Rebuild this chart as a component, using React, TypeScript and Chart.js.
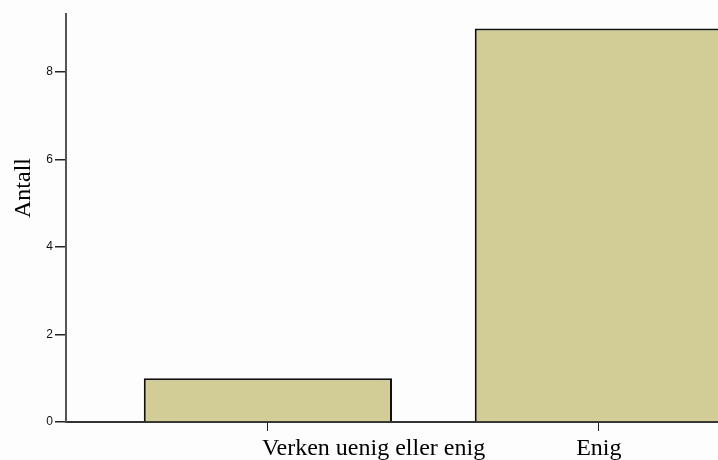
import React, { useEffect, useRef } from "react";
import { Chart, registerables } from "chart.js";
Chart.register(...registerables);

const categories = ["Verken uenig eller enig", "Enig"];
const counts = [1, 9];
const yTickValues = [0, 2, 4, 6, 8];
const yTitle = "Antall";

export default function App() {
  const ref = useRef<HTMLCanvasElement>(null);
  useEffect(() => {
    const canvas = ref.current!;
    const labelPlugin = {
      id: "customLabels",
      afterDraw(chart: any) {
        const c = chart.ctx;
        const xs = chart.scales.x;
        const area = chart.chartArea;
        c.save();
        c.fillStyle = "#000";
        c.font = "24px 'Liberation Serif'";
        c.textBaseline = "alphabetic";
        categories.forEach((label, i) => {
          const px = xs.getPixelForValue(i);
          if (i === 0) {
            c.textAlign = "left";
            c.fillText(label, px - 6, area.bottom + 33);
          } else {
            c.textAlign = "center";
            c.fillText(label, px, area.bottom + 33);
          }
        });
        c.translate(24, area.top + 174);
        c.rotate(-Math.PI / 2);
        c.textAlign = "center";
        c.textBaseline = "middle";
        c.fillText(yTitle, 0, 0);
        c.restore();
      },
    };
    const chart = new Chart(canvas, {
      type: "bar",
      data: {
        datasets: [
          {
            data: counts.map((v, i) => ({ x: i, y: v })),
            backgroundColor: "#d2cd97",
            borderColor: "#111",
            borderWidth: 2,
            barPercentage: 0.75,
            categoryPercentage: 1,
          },
        ],
      },
      options: {
        animation: false,
        responsive: false,
        devicePixelRatio: 1,
        layout: { padding: { top: 14, right: 0, left: 0, bottom: 0 } },
        plugins: { legend: { display: false }, tooltip: { enabled: false } },
        scales: {
          x: {
            type: "linear",
            min: -0.61,
            max: 1.36,
            offset: false,
            grid: { offset: false, drawOnChartArea: false, drawTicks: true, tickLength: 9, color: "#222", lineWidth: 1 },
            border: { color: "#333", width: 2 },
            ticks: { display: false },
            afterBuildTicks: (s: any) => {
              s.ticks = categories.map((_, i) => ({ value: i }));
            },
            afterFit: (s: any) => {
              s.height = 38;
            },
          },
          y: {
            min: 0,
            max: 9.33,
            grid: { drawOnChartArea: false, tickLength: 11, color: "#222", lineWidth: 1.5 },
            border: { color: "#555", width: 2 },
            ticks: { font: { size: 12, family: "'Liberation Sans'" }, color: "#111", padding: 2 },
            afterBuildTicks: (s: any) => {
              s.ticks = yTickValues.map((v) => ({ value: v }));
            },
            afterFit: (s: any) => {
              s.width = 66;
            },
          },
        },
      } as any,
      plugins: [labelPlugin],
    });
    return () => chart.destroy();
  }, []);
  return (
    <div style={{ position: "fixed", left: 0, top: 0, width: 718, height: 460, background: "#fdfdfd", overflow: "hidden" }}>
      <canvas ref={ref} width={718} height={460} style={{ display: "block" }} />
    </div>
  );
}
